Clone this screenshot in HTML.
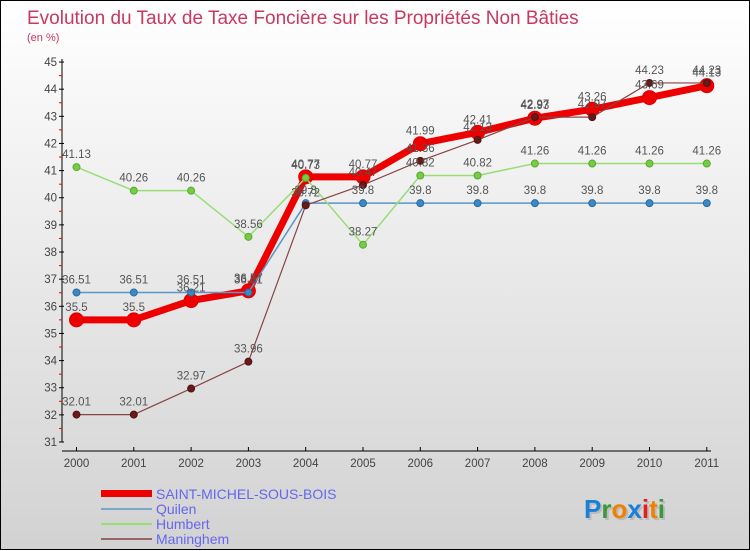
<!DOCTYPE html>
<html><head><meta charset="utf-8"><style>
body{margin:0;width:750px;height:550px;overflow:hidden;font-family:"Liberation Sans",sans-serif}
#wrap{position:relative;width:748px;height:548px;border:1px solid #000;background:linear-gradient(#ffffff,#d2d2d2)}
svg{position:absolute;left:0;top:0}
</style></head><body>
<div id="wrap">
<svg id="chart" width="750" height="550">
<text x="26" y="23" font-size="19" fill="#c8385f">Evolution du Taux de Taxe Foncière sur les Propriétés Non Bâties</text>
<text x="26" y="40" font-size="11" fill="#c8385f">(en %)</text>
<g id="axes"></g><g id="series"></g><g id="labels"></g>
<g>
<rect x="100" y="489" width="51" height="7" fill="#e00"/>
<text x="155" y="498" font-size="14" fill="#6666ee">SAINT-MICHEL-SOUS-BOIS</text>
<rect x="100" y="507" width="51" height="2" fill="#7aa7c7"/>
<text x="155" y="513" font-size="14" fill="#6666ee">Quilen</text>
<rect x="100" y="522" width="51" height="2" fill="#99dd77"/>
<text x="155" y="528" font-size="14" fill="#6666ee">Humbert</text>
<rect x="100" y="537" width="51" height="2" fill="#996666"/>
<text x="155" y="543" font-size="14" fill="#6666ee">Maninghem</text>
</g>
<text x="585" y="519" font-size="26" font-weight="bold" fill="#bbb">Proxiti</text>
<text x="583" y="517" font-size="26" font-weight="bold"><tspan fill="#1a7fd6">P</tspan><tspan fill="#3a9a3a">r</tspan><tspan fill="#f08000">o</tspan><tspan fill="#1a7fd6">x</tspan><tspan fill="#e02020">i</tspan><tspan fill="#f08000">t</tspan><tspan fill="#3a9a3a">i</tspan></text>
</svg>
</div>
<script>
const years=[2000,2001,2002,2003,2004,2005,2006,2007,2008,2009,2010,2011];
const smsb=[35.5,35.5,36.21,36.57,40.77,40.77,41.99,42.41,42.93,43.26,43.69,44.13];
const quilen=[36.51,36.51,36.51,36.51,39.8,39.8,39.8,39.8,39.8,39.8,39.8,39.8];
const humbert=[41.13,40.26,40.26,38.56,40.73,38.27,40.82,40.82,41.26,41.26,41.26,41.26];
const maninghem=[32.01,32.01,32.97,33.96,39.72,40.47,41.36,42.13,42.97,42.97,44.23,44.23];
const yTicks=[31,32,33,34,35,36,37,38,39,40,41,42,43,44,45];
const NS='http://www.w3.org/2000/svg';
const x=i=>75.5+i*57.3;
const y=v=>441-(v-31)*27.14;
function mk(tag,attrs,parent){const e=document.createElementNS(NS,tag);for(const k in attrs)e.setAttribute(k,attrs[k]);parent.appendChild(e);return e;}
const axes=document.getElementById('axes'),ser=document.getElementById('series'),lab=document.getElementById('labels');
let e=mk('line',{x1:61,y1:58,x2:61,y2:441,stroke:'#000'},axes);


e=mk('line',{x1:61,y1:450,x2:710,y2:450,stroke:'#000'},axes);


yTicks.forEach(t=>{
  mk('line',{x1:58,y1:y(t),x2:63,y2:y(t),stroke:'#000'},axes);
  if(t<45)mk('line',{x1:58,y1:y(t+0.5),x2:61,y2:y(t+0.5),stroke:'#e00'},axes);
  const tx=mk('text',{x:56,y:y(t)+4,'font-size':11.5,fill:'#444','text-anchor':'end'},axes);
  tx.textContent=t;
  
  
});
years.forEach((yr,i)=>{
  mk('line',{x1:x(i),y1:446,x2:x(i),y2:450,stroke:'#000'},axes);
  const tx=mk('text',{x:x(i),y:466,'font-size':11.5,fill:'#444','text-anchor':'middle'},axes);
  tx.textContent=yr;
  
  
});
function series(vals,name,color,w,r,fill,stroke){
  const g=mk('g',{},ser);
  
  
  const pl=mk('polyline',{points:vals.map((v,i)=>x(i)+','+y(v)).join(' '),fill:'none',stroke:color,'stroke-width':w,'stroke-linejoin':'round'},g);
  
  
  vals.forEach((v,i)=>{
    const c=mk('circle',{cx:x(i),cy:y(v),r:r,fill:fill,stroke:stroke,'stroke-width':1},g);
    
    
    const t=mk('text',{x:x(i),y:y(v)-9,'font-size':11.5,fill:'#555','text-anchor':'middle'},lab);
    t.textContent=v;
    
    
  });
}
series(smsb,'saint-michel','#ee0000',7,7,'#ee0000','#dd0000');
series(quilen,'quilen','#5a96c8',1.5,3.5,'#3a88c8','#2a6a9a');
series(humbert,'humbert','#99dd77',1.5,3.5,'#77cc44','#55aa33');
series(maninghem,'maninghem','#884444',1.2,3.5,'#661a1a','#551111');
</script>
</body></html>
